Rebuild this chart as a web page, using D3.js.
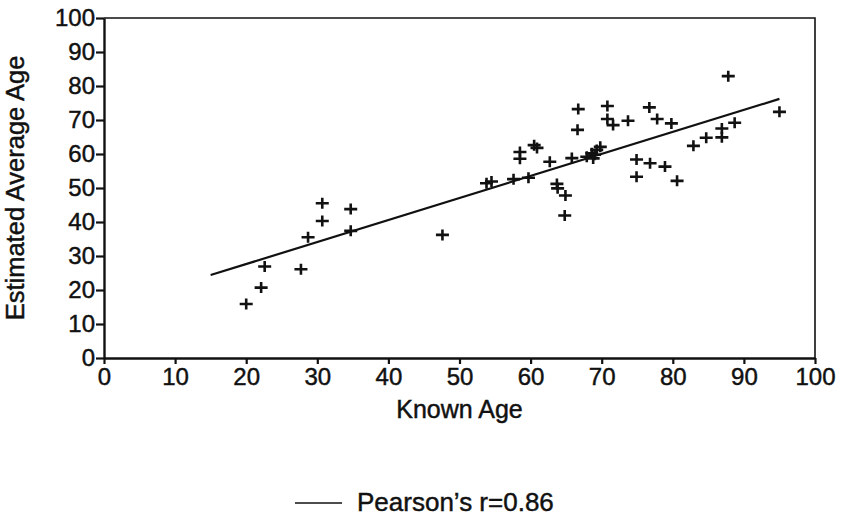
<!DOCTYPE html>
<html>
<head>
<meta charset="utf-8">
<script src="https://cdnjs.cloudflare.com/ajax/libs/d3/7.8.5/d3.min.js"></script>
<style>
  body { margin: 0; background: #fff; }
  svg text { font-family: "Liberation Sans", Arial, Helvetica, sans-serif; fill: #111; stroke: #111; stroke-width: 0.45px; }
</style>
</head>
<body>
<div id="chart"></div>
<script>
// Known age vs estimated average age
const knownAge = [
    20, 22.1, 22.6, 27.7, 28.7, 30.7, 30.7, 34.7, 34.7, 47.6,
    53.8, 54.5, 57.6, 59.7, 58.5, 58.5, 60.5, 60.9, 62.7, 63.7,
    63.8, 64.9, 64.8, 65.8, 66.6, 66.7, 67.9, 68.6, 68.8, 69.0,
    69.3, 69.8, 70.8, 70.8, 71.6, 73.7, 74.9, 74.9, 76.7, 76.8,
    77.8, 78.9, 79.8, 80.6, 82.9, 84.7, 86.9, 86.9, 87.8, 88.7,
    95.0
];
const estimatedAge = [
    15.9, 20.7, 26.9, 26.1, 35.5, 45.5, 40.3, 43.8, 37.4, 36.2,
    51.4, 51.9, 52.6, 53.0, 60.6, 58.6, 62.6, 61.8, 57.7, 51.2,
    49.9, 47.8, 41.9, 58.8, 67.1, 73.2, 59.2, 60.2, 58.7, 59.8,
    61.2, 62.1, 74.1, 70.3, 68.5, 69.8, 58.4, 53.3, 73.7, 57.3,
    70.3, 56.3, 69.0, 52.1, 62.4, 64.8, 67.5, 64.9, 82.9, 69.2,
    72.4
];

// fitted line, drawn from x = 15 to x = 95
const fitX = [15, 95];
const fitY = [24.4, 76.2];

const xTicks = [0, 10, 20, 30, 40, 50, 60, 70, 80, 90, 100];
const yTicks = [0, 10, 20, 30, 40, 50, 60, 70, 80, 90, 100];

const legendLabel = "Pearson\u2019s r=0.86";

const width = 843, height = 518;
const margin = { top: 18, right: 28, bottom: 160, left: 104 };
const w = width - margin.left - margin.right;
const h = height - margin.top - margin.bottom;

const svg = d3.select("#chart").append("svg")
    .attr("width", width)
    .attr("height", height);

const g = svg.append("g")
    .attr("transform", `translate(${margin.left},${margin.top})`);

const x = d3.scaleLinear().domain([0, 100]).range([0, w]);
const y = d3.scaleLinear().domain([0, 100]).range([h, 0]);

// frame (top and right)
g.append("path")
    .attr("d", `M0,0H${w}V${h}`)
    .attr("fill", "none")
    .attr("stroke", "#111")
    .attr("stroke-width", 1.6);

const xAxis = g.append("g")
    .attr("transform", `translate(0,${h})`)
    .call(d3.axisBottom(x).tickValues(xTicks).tickSize(6).tickPadding(4).tickSizeOuter(0));

const yAxis = g.append("g")
    .call(d3.axisLeft(y).tickValues(yTicks).tickSize(8).tickPadding(1).tickSizeOuter(0));

[xAxis, yAxis].forEach(a => {
    a.select(".domain").attr("stroke", "#111").attr("stroke-width", 2.4);
    a.selectAll(".tick line").attr("stroke", "#111").attr("stroke-width", 2.2);
    a.selectAll(".tick text")
        .style("font-size", "24px")
        .style("font-family", "'Liberation Sans', Arial, sans-serif")
        .attr("fill", "#111");
});

// regression line
const line = d3.line().x(d => x(d[0])).y(d => y(d[1]));
g.append("path")
    .datum(d3.zip(fitX, fitY))
    .attr("d", line)
    .attr("fill", "none")
    .attr("stroke", "#111")
    .attr("stroke-width", 2.2);

// plus markers
const pts = d3.zip(knownAge, estimatedAge);
g.selectAll(".pt")
    .data(pts)
    .enter()
    .append("path")
    .attr("class", "pt")
    .attr("transform", d => `translate(${x(d[0])},${y(d[1])})`)
    .attr("d", "M-6.5,0H6.5M0,-5.5V5.5")
    .attr("stroke", "#111")
    .attr("stroke-width", 2.6)
    .attr("fill", "none");

// axis titles
g.append("text")
    .attr("x", w / 2)
    .attr("y", h + 60)
    .attr("text-anchor", "middle")
    .style("font-size", "25px")
    .text("Known Age");

g.append("text")
    .attr("transform", `translate(${-80},${h / 2}) rotate(-90)`)
    .attr("text-anchor", "middle")
    .style("font-size", "25.5px")
    .text("Estimated Average Age");

// legend
const lg = svg.append("g").attr("transform", "translate(295,503)");
lg.append("line")
    .attr("x1", 0).attr("x2", 47)
    .attr("y1", 0).attr("y2", 0)
    .attr("stroke", "#111")
    .attr("stroke-width", 1.6);
lg.append("text")
    .attr("x", 62)
    .attr("y", 8)
    .style("font-size", "26px")
    .text(legendLabel);
</script>
</body>
</html>
